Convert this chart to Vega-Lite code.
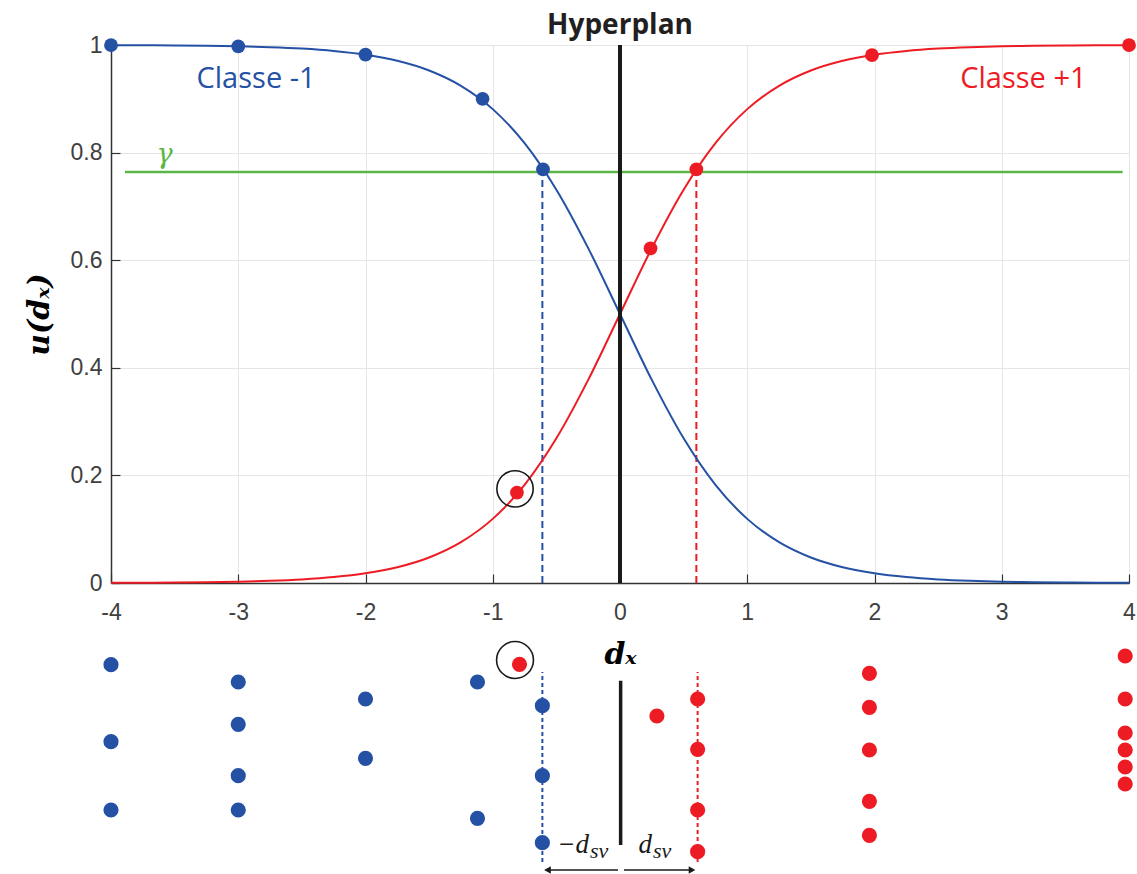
{
  "$schema": "https://vega.github.io/schema/vega-lite/v6.json",
  "padding": {"left": 24, "top": 12, "right": 0, "bottom": 0},
  "config": {"view": {"stroke": null}, "font": "Liberation Sans"},
  "spacing": 57,
  "bounds": "flush",
  "datasets": {
    "curve": [
      {"d": -4, "neg": 0.9997, "pos": 0.0003},
      {"d": -3.75, "neg": 0.9994, "pos": 0.0006},
      {"d": -3.5, "neg": 0.9991, "pos": 0.0009},
      {"d": -3.25, "neg": 0.9985, "pos": 0.0015},
      {"d": -3, "neg": 0.9975, "pos": 0.0025},
      {"d": -2.75, "neg": 0.9959, "pos": 0.0041},
      {"d": -2.5, "neg": 0.9933, "pos": 0.0067},
      {"d": -2.25, "neg": 0.989, "pos": 0.011},
      {"d": -2, "neg": 0.982, "pos": 0.018},
      {"d": -1.75, "neg": 0.9707, "pos": 0.0293},
      {"d": -1.5, "neg": 0.9526, "pos": 0.0474},
      {"d": -1.25, "neg": 0.9241, "pos": 0.0759},
      {"d": -1, "neg": 0.8808, "pos": 0.1192},
      {"d": -0.75, "neg": 0.8176, "pos": 0.1824},
      {"d": -0.5, "neg": 0.7311, "pos": 0.2689},
      {"d": -0.25, "neg": 0.6225, "pos": 0.3775},
      {"d": 0, "neg": 0.5, "pos": 0.5},
      {"d": 0.25, "neg": 0.3775, "pos": 0.6225},
      {"d": 0.5, "neg": 0.2689, "pos": 0.7311},
      {"d": 0.75, "neg": 0.1824, "pos": 0.8176},
      {"d": 1, "neg": 0.1192, "pos": 0.8808},
      {"d": 1.25, "neg": 0.0759, "pos": 0.9241},
      {"d": 1.5, "neg": 0.0474, "pos": 0.9526},
      {"d": 1.75, "neg": 0.0293, "pos": 0.9707},
      {"d": 2, "neg": 0.018, "pos": 0.982},
      {"d": 2.25, "neg": 0.011, "pos": 0.989},
      {"d": 2.5, "neg": 0.0067, "pos": 0.9933},
      {"d": 2.75, "neg": 0.0041, "pos": 0.9959},
      {"d": 3, "neg": 0.0025, "pos": 0.9975},
      {"d": 3.25, "neg": 0.0015, "pos": 0.9985},
      {"d": 3.5, "neg": 0.0009, "pos": 0.9991},
      {"d": 3.75, "neg": 0.0006, "pos": 0.9994},
      {"d": 4, "neg": 0.0003, "pos": 0.9997}
    ],
    "toppts": [
      {"d": -4, "u": 0.9997, "cls": "neg"},
      {"d": -3, "u": 0.9975, "cls": "neg"},
      {"d": -2, "u": 0.982, "cls": "neg"},
      {"d": -1.08, "u": 0.9, "cls": "neg"},
      {"d": -0.605, "u": 0.769, "cls": "neg"},
      {"d": -0.81, "u": 0.168, "cls": "pos"},
      {"d": 0.24, "u": 0.622, "cls": "pos"},
      {"d": 0.6, "u": 0.769, "cls": "pos"},
      {"d": 1.98, "u": 0.981, "cls": "pos"},
      {"d": 4, "u": 0.9997, "cls": "pos"}
    ],
    "botpts": [
      {"d": -4, "h": 209.3, "cls": "neg"},
      {"d": -4, "h": 132.3, "cls": "neg"},
      {"d": -4, "h": 64, "cls": "neg"},
      {"d": -3, "h": 192, "cls": "neg"},
      {"d": -3, "h": 149.7, "cls": "neg"},
      {"d": -3, "h": 98.3, "cls": "neg"},
      {"d": -3, "h": 64, "cls": "neg"},
      {"d": -2, "h": 175, "cls": "neg"},
      {"d": -2, "h": 115.7, "cls": "neg"},
      {"d": -1.12, "h": 192, "cls": "neg"},
      {"d": -1.12, "h": 55.7, "cls": "neg"},
      {"d": -0.61, "h": 168.3, "cls": "neg"},
      {"d": -0.61, "h": 98.3, "cls": "neg"},
      {"d": -0.61, "h": 31.3, "cls": "neg"},
      {"d": -0.79, "h": 209.7, "cls": "pos"},
      {"d": 0.29, "h": 158, "cls": "pos"},
      {"d": 0.61, "h": 175, "cls": "pos"},
      {"d": 0.61, "h": 124.7, "cls": "pos"},
      {"d": 0.61, "h": 64, "cls": "pos"},
      {"d": 0.61, "h": 22.3, "cls": "pos"},
      {"d": 1.96, "h": 200.7, "cls": "pos"},
      {"d": 1.96, "h": 166.7, "cls": "pos"},
      {"d": 1.96, "h": 124, "cls": "pos"},
      {"d": 1.96, "h": 72.7, "cls": "pos"},
      {"d": 1.96, "h": 38.7, "cls": "pos"},
      {"d": 3.97, "h": 218, "cls": "pos"},
      {"d": 3.97, "h": 175, "cls": "pos"},
      {"d": 3.97, "h": 141, "cls": "pos"},
      {"d": 3.97, "h": 124, "cls": "pos"},
      {"d": 3.97, "h": 107, "cls": "pos"},
      {"d": 3.97, "h": 90, "cls": "pos"}
    ]
  },
  "vconcat": [
    {
      "width": 1018,
      "height": 538,
      "title": {"text": "Hyperplan", "font": "Open Sans", "fontSize": 28, "fontWeight": "bold", "color": "#231f20", "anchor": "middle", "offset": -6},
      "encoding": {
        "x": {
          "field": "d", "type": "quantitative",
          "scale": {"domain": [-4, 4], "nice": false},
          "axis": {
            "values": [-4, -3, -2, -1, 0, 1, 2, 3, 4],
            "labelExpr": "'' + datum.value",
            "title": "dₓ",
            "titleFont": "DejaVu Serif", "titleFontSize": 30, "titleFontStyle": "italic", "titleFontWeight": "bold", "titleColor": "#000000",
            "titlePadding": 15,
            "labelFont": "Liberation Sans", "labelFontSize": 23, "labelColor": "#404040", "labelPadding": 27, "labelFlush": false, "labelOverlap": false,
            "tickSize": -9, "tickColor": "#333333", "tickWidth": 1.2,
            "domainColor": "#333333", "domainWidth": 1.5,
            "grid": true, "gridColor": "#e6e6e6", "gridWidth": 1
          }
        },
        "y": {
          "field": "u", "type": "quantitative",
          "scale": {"domain": [0, 1], "nice": false},
          "axis": {
            "values": [0, 0.2, 0.4, 0.6, 0.8, 1],
            "labelExpr": "'' + datum.value",
            "title": "u(dₓ)",
            "titleFont": "DejaVu Serif", "titleFontSize": 30, "titleFontStyle": "italic", "titleFontWeight": "bold", "titleColor": "#000000",
            "titlePadding": 16,
            "labelFont": "Liberation Sans", "labelFontSize": 23, "labelColor": "#404040", "labelPadding": 18, "labelFlush": false, "labelOverlap": false,
            "tickSize": -9, "tickColor": "#333333", "tickWidth": 1.2,
            "domainColor": "#333333", "domainWidth": 1.5,
            "grid": true, "gridColor": "#e6e6e6", "gridWidth": 1
          }
        },
        "color": {"field": "cls", "type": "nominal", "scale": {"domain": ["neg", "pos"], "range": ["#2451a4", "#ed1c24"]}, "legend": null}
      },
      "layer": [
        {
          "data": {"values": [{"d": -3.89, "d2": 3.95, "u": 0.764}]},
          "mark": {"type": "rule", "color": "#5bb647", "strokeWidth": 2.5},
          "encoding": {"x2": {"field": "d2"}, "color": {"value": "#5bb647"}}
        },
        {
          "data": {"values": [{"d": -0.61, "u": 0, "u2": 0.768, "cls": "neg"}, {"d": 0.6, "u": 0, "u2": 0.768, "cls": "pos"}]},
          "mark": {"type": "rule", "strokeWidth": 2, "strokeDash": [7, 4]},
          "encoding": {"y2": {"field": "u2"}}
        },
        {
          "data": {"name": "curve"},
          "transform": [{"fold": ["neg", "pos"], "as": ["cls", "u"]}],
          "mark": {"type": "line", "strokeWidth": 2, "interpolate": "monotone"},
          "encoding": {"order": {"field": "d", "type": "quantitative"}}
        },
        {
          "data": {"values": [{"d": 0, "u": 0, "u2": 1}]},
          "mark": {"type": "rule", "strokeWidth": 4, "color": "#1a1a1a"},
          "encoding": {"y2": {"field": "u2"}, "color": {"value": "#1a1a1a"}}
        },
        {
          "data": {"name": "toppts"},
          "mark": {"type": "point", "filled": true, "opacity": 1, "size": 190}
        },
        {
          "data": {"values": [{"d": -0.825, "u": 0.175}]},
          "mark": {"type": "point", "filled": false, "opacity": 1, "size": 1320, "strokeWidth": 1.6},
          "encoding": {"color": {"value": "#1a1a1a"}}
        },
        {
          "data": {"values": [{"d": -2.86, "u": 0.936, "txt": "Classe -1", "cls": "neg"}, {"d": 3.17, "u": 0.936, "txt": "Classe +1", "cls": "pos"}]},
          "mark": {"type": "text", "font": "Open Sans", "fontSize": 29, "baseline": "middle", "align": "center"},
          "encoding": {"text": {"field": "txt"}}
        },
        {
          "data": {"values": [{"d": -3.58, "u": 0.795, "txt": "γ"}]},
          "mark": {"type": "text", "font": "DejaVu Serif", "fontStyle": "italic", "fontSize": 27, "baseline": "middle", "align": "center"},
          "encoding": {"text": {"field": "txt"}, "color": {"value": "#5bb647"}}
        }
      ]
    },
    {
      "width": 1018,
      "height": 234,
      "encoding": {
        "x": {"field": "d", "type": "quantitative", "scale": {"domain": [-4, 4], "nice": false}, "axis": null},
        "y": {"field": "h", "type": "quantitative", "scale": {"domain": [0, 234], "nice": false}, "axis": null},
        "color": {"field": "cls", "type": "nominal", "scale": {"domain": ["neg", "pos"], "range": ["#2451a4", "#ed1c24"]}, "legend": null}
      },
      "layer": [
        {
          "data": {"values": [{"d": -0.61, "h": 12, "h2": 202, "cls": "neg"}, {"d": 0.61, "h": 12, "h2": 202, "cls": "pos"}]},
          "mark": {"type": "rule", "strokeWidth": 2, "strokeDash": [4, 3]},
          "encoding": {"y2": {"field": "h2"}}
        },
        {
          "data": {"values": [{"d": 0.005, "h": 29, "h2": 193.3}]},
          "mark": {"type": "rule", "strokeWidth": 3.5},
          "encoding": {"y2": {"field": "h2"}, "color": {"value": "#1a1a1a"}}
        },
        {
          "data": {"values": [{"d": -0.57, "d2": -0.016, "h": 4}, {"d": 0.031, "d2": 0.564, "h": 4}]},
          "mark": {"type": "rule", "strokeWidth": 1.5},
          "encoding": {"x2": {"field": "d2"}, "color": {"value": "#1a1a1a"}}
        },
        {
          "data": {"values": [{"d": -0.57, "h": 4, "dir": "triangle-left"}, {"d": 0.566, "h": 4, "dir": "triangle-right"}]},
          "mark": {"type": "point", "filled": true, "opacity": 1, "size": 60},
          "encoding": {"shape": {"field": "dir", "type": "nominal", "scale": null}, "color": {"value": "#1a1a1a"}}
        },
        {
          "data": {"name": "botpts"},
          "mark": {"type": "point", "filled": true, "opacity": 1, "size": 230}
        },
        {
          "data": {"values": [{"d": -0.825, "h": 214}]},
          "mark": {"type": "point", "filled": false, "opacity": 1, "size": 1360, "strokeWidth": 1.6},
          "encoding": {"color": {"value": "#1a1a1a"}}
        },
        {
          "data": {"values": [{"d": -0.244, "h": 21, "txt": "−d"}, {"d": 0.251, "h": 21, "txt": "d"}]},
          "mark": {"type": "text", "font": "Liberation Serif", "fontStyle": "italic", "fontSize": 27, "baseline": "alphabetic", "align": "right"},
          "encoding": {"text": {"field": "txt"}, "color": {"value": "#1a1a1a"}}
        },
        {
          "data": {"values": [{"d": -0.236, "h": 16, "txt": "sv"}, {"d": 0.259, "h": 16, "txt": "sv"}]},
          "mark": {"type": "text", "font": "Liberation Serif", "fontStyle": "italic", "fontSize": 22, "baseline": "alphabetic", "align": "left"},
          "encoding": {"text": {"field": "txt"}, "color": {"value": "#1a1a1a"}}
        }
      ]
    }
  ]
}
